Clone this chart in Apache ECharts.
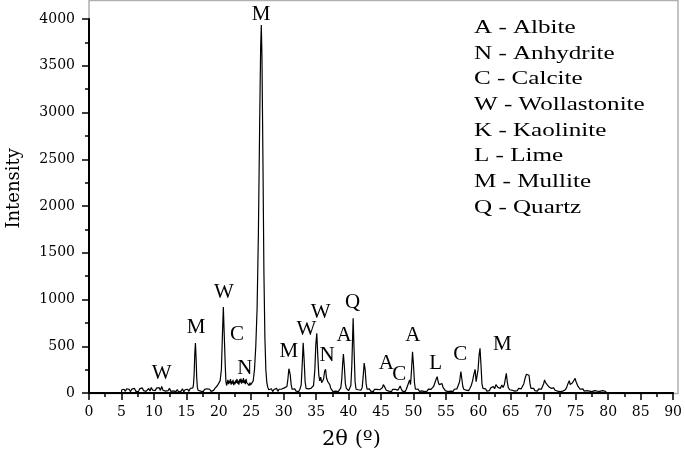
<!DOCTYPE html>
<html>
<head>
<meta charset="utf-8">
<script src="https://cdn.jsdelivr.net/npm/echarts@6.0.0/dist/echarts.min.js"></script>
<style>
  html, body { margin: 0; padding: 0; background: #fff; }
  #main { width: 685px; height: 459px; }
</style>
</head>
<body>
<div id="main"></div>
<script>
// XRD pattern, [2theta, intensity] in pieces
const seg5to20 = [
  [5.0, 0], [5.05, 35], [5.2, 22], [5.4, 40], [5.6, 18], [5.8, 45], [6.0, 25], [6.2, 38], [6.4, 15],
  [6.6, 42], [6.8, 28], [7.0, 50], [7.2, 20], [7.4, 35], [7.6, 12], [7.8, 44], [8.0, 30], [8.2, 55],
  [8.4, 26], [8.6, 40], [8.8, 18], [9.0, 36], [9.2, 48], [9.4, 22], [9.6, 60], [9.8, 30], [10.0, 45],
  [10.2, 25], [10.4, 52], [10.6, 35], [10.8, 58], [11.0, 28], [11.2, 70], [11.4, 30], [11.6, 48],
  [11.8, 20], [12.0, 40], [12.2, 26], [12.4, 50], [12.6, 18], [12.8, 35], [13.0, 22], [13.2, 42],
  [13.4, 15], [13.6, 38], [13.8, 10], [14.0, 30], [14.2, 20], [14.4, 45], [14.6, 12], [14.8, 35],
  [15.0, 25], [15.2, 40], [15.4, 18], [15.6, 48], [15.8, 30], [16.0, 55], [16.1, 90], [16.2, 200],
  [16.3, 420], [16.4, 535], [16.5, 380], [16.6, 160], [16.7, 60], [16.8, 30], [17.0, 45], [17.2, 20],
  [17.4, 40], [17.6, 15], [17.8, 38], [18.0, 22], [18.2, 45], [18.4, 25], [18.6, 40], [18.8, 18],
  [19.0, 35], [19.2, 28], [19.4, 50], [19.6, 65], [19.8, 80], [20.0, 95]
];
const seg20to28 = [
  [20.2, 130], [20.4, 250], [20.55, 600], [20.7, 920], [20.85, 600], [21.0, 280], [21.1, 120],
  [21.2, 80], [21.3, 110], [21.4, 140], [21.5, 95], [21.6, 130], [21.7, 105], [21.8, 150], [21.9, 90],
  [22.0, 125], [22.1, 100], [22.2, 140], [22.3, 85], [22.4, 120], [22.5, 95], [22.6, 135], [22.7, 110],
  [22.8, 150], [22.9, 100], [23.0, 130], [23.1, 90], [23.2, 145], [23.3, 115], [23.4, 155], [23.5, 100],
  [23.6, 140], [23.7, 110], [23.8, 160], [23.9, 105], [24.0, 135], [24.1, 95], [24.2, 150], [24.3, 110],
  [24.4, 130], [24.5, 90], [24.6, 120], [24.7, 80], [24.8, 110], [24.9, 85], [25.0, 100], [25.1, 75],
  [25.2, 90], [25.3, 130], [25.5, 250], [25.7, 500], [25.9, 900], [26.1, 1700], [26.3, 2900],
  [26.45, 3700], [26.55, 3935], [26.65, 3600], [26.8, 2500], [26.95, 1300], [27.1, 600], [27.25, 250],
  [27.4, 110], [27.55, 60], [27.7, 35], [27.9, 20]
];
const seg28to44 = [
  [28.1, 45], [28.3, 15], [28.5, 38], [28.7, 22], [28.9, 50], [29.1, 18], [29.3, 40], [29.5, 25],
  [29.7, 42], [29.9, 30], [30.1, 55], [30.3, 40], [30.5, 70], [30.65, 150], [30.8, 260], [30.9, 280],
  [31.0, 200], [31.15, 90], [31.3, 40], [31.5, 25], [31.7, 45], [31.9, 20], [32.1, 38], [32.3, 15],
  [32.5, 40], [32.7, 90], [32.85, 300], [33.0, 538], [33.15, 350], [33.3, 120], [33.45, 50], [33.6, 30],
  [33.8, 45], [34.0, 25], [34.2, 50], [34.4, 35], [34.6, 80], [34.8, 250], [34.95, 520], [35.1, 638],
  [35.25, 400], [35.4, 200], [35.55, 130], [35.7, 170], [35.85, 110], [36.0, 90], [36.15, 150],
  [36.3, 230], [36.45, 253], [36.6, 160], [36.8, 120], [36.95, 140], [37.1, 90], [37.25, 50], [37.4, 30],
  [37.6, 15], [37.8, 35], [38.0, 20], [38.2, 40], [38.4, 15], [38.6, 30], [38.8, 55], [38.95, 150],
  [39.1, 330], [39.2, 417], [39.35, 280], [39.5, 100], [39.65, 50], [39.8, 35], [40.0, 25], [40.2, 40],
  [40.35, 80], [40.5, 300], [40.7, 800], [40.85, 450], [41.0, 120], [41.15, 40], [41.3, 20], [41.5, 35],
  [41.7, 15], [41.9, 30], [42.1, 60], [42.25, 180], [42.4, 320], [42.55, 250], [42.7, 100], [42.85, 40],
  [43.0, 25], [43.2, 45], [43.4, 20], [43.6, 35], [43.8, 15]
];
const seg44to61 = [
  [44.0, 40], [44.2, 25], [44.4, 38], [44.6, 20], [44.8, 35], [45.0, 30], [45.2, 55], [45.35, 90],
  [45.45, 104], [45.6, 60], [45.8, 30], [46.0, 45], [46.2, 20], [46.4, 35], [46.6, 15], [46.8, 40],
  [47.0, 25], [47.2, 38], [47.4, 20], [47.6, 30], [47.8, 50], [47.95, 75], [48.1, 45], [48.3, 20],
  [48.5, 38], [48.7, 15], [48.9, 40], [49.1, 60], [49.25, 110], [49.4, 140], [49.55, 90], [49.7, 250],
  [49.85, 442], [50.0, 300], [50.15, 110], [50.3, 40], [50.5, 25], [50.7, 42], [50.9, 18], [51.1, 35],
  [51.3, 22], [51.5, 40], [51.7, 15], [51.9, 35], [52.1, 20], [52.3, 42], [52.5, 25], [52.7, 38],
  [52.9, 50], [53.1, 70], [53.3, 110], [53.5, 150], [53.65, 174], [53.8, 120], [53.95, 90], [54.1, 80],
  [54.25, 107], [54.4, 100], [54.55, 60], [54.7, 40], [54.9, 25], [55.1, 38], [55.3, 15], [55.5, 30],
  [55.7, 20], [55.9, 35], [56.1, 18], [56.3, 40], [56.5, 25], [56.7, 45], [56.9, 60], [57.1, 120],
  [57.3, 228], [57.45, 150], [57.6, 70], [57.75, 40], [57.9, 55], [58.1, 30], [58.3, 45], [58.5, 25],
  [58.7, 50], [58.9, 80], [59.1, 130], [59.3, 200], [59.5, 253], [59.65, 120], [59.8, 110], [59.95, 250],
  [60.1, 400], [60.25, 478], [60.4, 300], [60.55, 100], [60.7, 50], [60.9, 30]
];
const seg61to80 = [
  [61.1, 45], [61.3, 20], [61.5, 40], [61.7, 25], [61.9, 55], [62.1, 35], [62.3, 70], [62.5, 45],
  [62.7, 90], [62.85, 104], [63.0, 60], [63.2, 80], [63.4, 50], [63.6, 85], [63.8, 60], [64.0, 90],
  [64.15, 150], [64.3, 210], [64.45, 120], [64.6, 60], [64.8, 35], [65.0, 55], [65.2, 30], [65.4, 45],
  [65.6, 20], [65.8, 40], [66.0, 25], [66.2, 50], [66.4, 30], [66.6, 45], [66.8, 60], [67.0, 100],
  [67.2, 160], [67.4, 200], [67.6, 217], [67.8, 190], [67.95, 100], [68.1, 50], [68.3, 35], [68.5, 50],
  [68.7, 25], [68.9, 40], [69.1, 20], [69.3, 45], [69.5, 30], [69.7, 40], [69.9, 60], [70.05, 100],
  [70.2, 139], [70.35, 110], [70.5, 90], [70.65, 100], [70.8, 70], [71.0, 60], [71.2, 50], [71.4, 40],
  [71.6, 55], [71.8, 30], [72.0, 45], [72.2, 20], [72.4, 35], [72.6, 15], [72.8, 30], [73.0, 20],
  [73.2, 40], [73.4, 35], [73.6, 60], [73.8, 100], [74.0, 131], [74.15, 90], [74.3, 80], [74.5, 110],
  [74.7, 130], [74.9, 157], [75.05, 120], [75.2, 100], [75.35, 70], [75.5, 60], [75.7, 40], [75.9, 30],
  [76.1, 45], [76.3, 20], [76.5, 35], [76.7, 25], [76.9, 40], [77.1, 20], [77.3, 38], [77.5, 15],
  [77.7, 35], [77.9, 25], [78.1, 40], [78.3, 20], [78.5, 35], [78.7, 18], [78.9, 30], [79.1, 25],
  [79.3, 35], [79.5, 20], [79.6, 40], [79.75, 10], [79.85, 0]
];

// peak letters: [2theta, intensity, phase]
const peakLabels = [
  [11.2, 214, 'W'], [16.5, 706, 'M'], [20.8, 1080, 'W'], [22.8, 631, 'C'], [24.0, 257, 'N'],
  [26.5, 4043, 'M'], [30.8, 439, 'M'], [33.5, 684, 'W'], [35.7, 866, 'W'], [36.7, 406, 'N'],
  [39.3, 610, 'A'], [40.6, 963, 'Q'], [45.8, 321, 'A'], [47.8, 193, 'C'], [49.9, 610, 'A'],
  [53.4, 321, 'L'], [57.2, 417, 'C'], [63.7, 524, 'M']
];

const legendLines = [
  'A - Albite', 'N - Anhydrite', 'C - Calcite', 'W - Wollastonite',
  'K - Kaolinite', 'L - Lime', 'M - Mullite', 'Q - Quartz'
];

const pattern = seg5to20.concat(seg20to28, seg28to44, seg44to61, seg61to80);

const tickFont = { fontFamily: 'DejaVu Serif', fontSize: 14, color: '#000' };

const myChart = echarts.init(document.getElementById('main'));

const option = {
  animation: false,
  backgroundColor: '#fff',
  grid: { left: 89, right: 7, top: 19, bottom: 66, containLabel: false },
  xAxis: {
    type: 'value',
    min: 0,
    max: 90,
    interval: 5,
    axisLine: { lineStyle: { color: '#000', width: 2 } },
    axisTick: { length: 7, lineStyle: { color: '#000', width: 1.5 } },
    minorTick: { show: true, splitNumber: 2, length: 4, lineStyle: { color: '#000', width: 1.5 } },
    splitLine: { show: false },
    axisLabel: Object.assign({ margin: 12 }, tickFont)
  },
  yAxis: {
    type: 'value',
    min: 0,
    max: 4000,
    interval: 500,
    axisLine: { show: true, lineStyle: { color: '#000', width: 2 } },
    axisTick: { show: true, length: 7, lineStyle: { color: '#000', width: 1.5 } },
    minorTick: { show: true, splitNumber: 2, length: 4, lineStyle: { color: '#000', width: 1.5 } },
    splitLine: { show: false },
    axisLabel: Object.assign({ margin: 14, formatter: (v) => String(v) }, tickFont)
  },
  graphic: [
    {
      type: 'rect', z: -1, silent: true,
      shape: { x: 89, y: 0.5, width: 589, height: 393 },
      style: { fill: null, stroke: '#b0b0b0', lineWidth: 1.5 }
    },
    {
      type: 'text', left: 5, top: 148, rotation: Math.PI / 2,
      style: { text: 'Intensity', font: '18px "DejaVu Serif"', fill: '#000' }
    },
    {
      type: 'text', left: 322, top: 429,
      style: { text: '2θ (º)', font: '21px "DejaVu Serif"', fill: '#000' }
    }
  ].concat(legendLines.map((txt, i) => ({
    type: 'text',
    x: 474,
    y: 28 + i * 25.7,
    scaleX: 1.32,
    style: {
      text: txt, font: '19px "Liberation Serif"', fill: '#000',
      verticalAlign: 'middle', align: 'left'
    }
  }))),
  series: [
    {
      type: 'line',
      data: pattern,
      showSymbol: false,
      lineStyle: { color: '#000', width: 1.2 },
      z: 3
    },
    {
      type: 'scatter',
      data: peakLabels,
      symbolSize: 1,
      clip: false,
      itemStyle: { color: 'rgba(0,0,0,0)', opacity: 1 },
      label: {
        show: true,
        position: 'inside',
        formatter: (p) => p.data[2],
        fontFamily: 'Liberation Serif',
        fontSize: 21,
        color: '#000',
        opacity: 1
      },
      z: 4
    }
  ]
};

myChart.setOption(option);
</script>
</body>
</html>
